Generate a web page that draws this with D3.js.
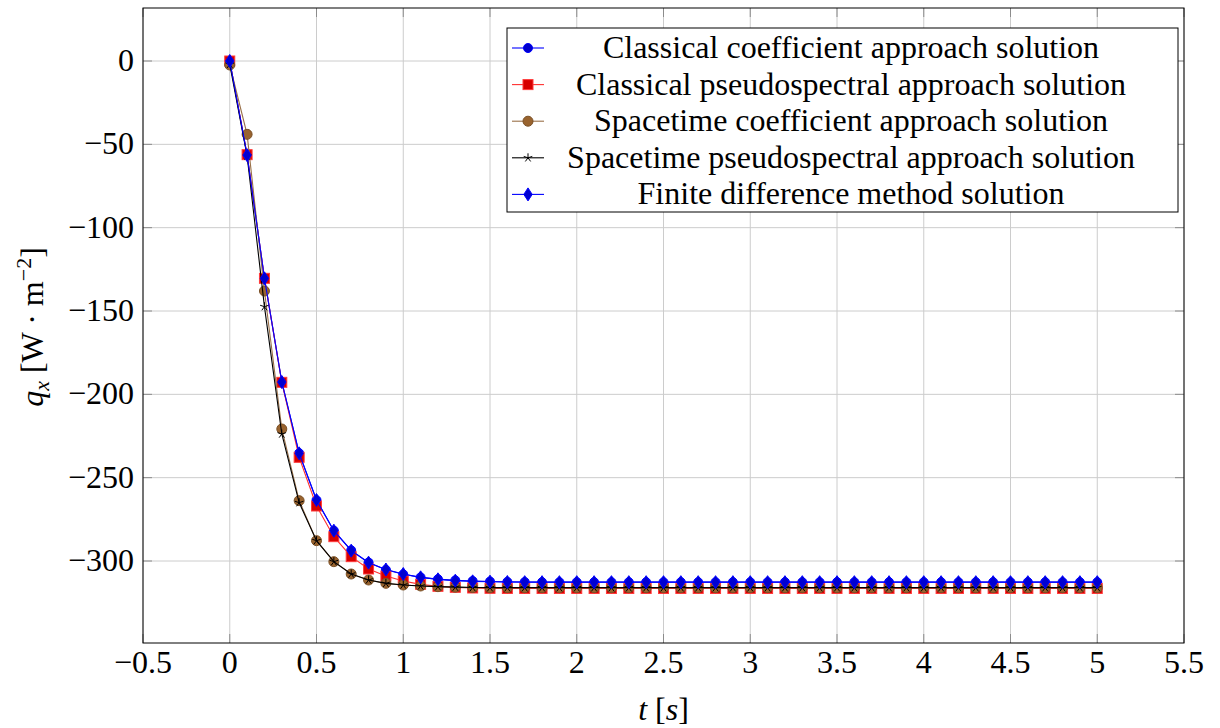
<!DOCTYPE html>
<html>
<head>
<meta charset="utf-8">
<script src="https://cdn.jsdelivr.net/npm/d3@7"></script>
</head>
<body style="margin:0; background:#fff">
<div id="container"></div>
<script>
// time values [s]
const tValues = [0, 0.1, 0.2, 0.3, 0.4, 0.5, 0.6, 0.7, 0.8, 0.9, 1, 1.1, 1.2, 1.3, 1.4, 1.5, 1.6, 1.7, 1.8, 1.9,
    2, 2.1, 2.2, 2.3, 2.4, 2.5, 2.6, 2.7, 2.8, 2.9, 3, 3.1, 3.2, 3.3, 3.4, 3.5, 3.6, 3.7, 3.8, 3.9,
    4, 4.1, 4.2, 4.3, 4.4, 4.5, 4.6, 4.7, 4.8, 4.9, 5];

const classicalCoef = [0, -56.4, -130.2, -192.5, -235.3, -263.5, -281.8, -293.6, -300.9, -305.3, -308.0, -309.8, -310.9, -311.6, -312.0, -312.3, -312.5, -312.6, -312.7, -312.7,
    -312.7, -312.7, -312.7, -312.7, -312.7, -312.7, -312.7, -312.7, -312.7, -312.7, -312.7, -312.7, -312.7, -312.7, -312.7, -312.7, -312.7, -312.7, -312.7, -312.7,
    -312.7, -312.7, -312.7, -312.7, -312.7, -312.7, -312.7, -312.7, -312.7, -312.7, -312.7];

const classicalPseudo = [0, -56.2, -130.4, -192.8, -237.8, -267.0, -285.4, -297.4, -304.8, -309.0, -312.0, -314.0, -315.2, -315.8, -316.2, -316.4, -316.5, -316.5, -316.5, -316.5,
    -316.5, -316.5, -316.5, -316.5, -316.5, -316.5, -316.5, -316.5, -316.5, -316.5, -316.5, -316.5, -316.5, -316.5, -316.5, -316.5, -316.5, -316.5, -316.5, -316.5,
    -316.5, -316.5, -316.5, -316.5, -316.5, -316.5, -316.5, -316.5, -316.5, -316.5, -316.5];

const spacetimeCoef = [-2.4, -44.0, -138.0, -220.8, -263.8, -287.8, -300.4, -307.8, -311.4, -313.4, -314.4, -315.0, -315.4, -315.7, -315.9, -316.0, -316.0, -316.0, -316.0, -316.0,
    -316.0, -316.0, -316.0, -316.0, -316.0, -316.0, -316.0, -316.0, -316.0, -316.0, -316.0, -316.0, -316.0, -316.0, -316.0, -316.0, -316.0, -316.0, -316.0, -316.0,
    -316.0, -316.0, -316.0, -316.0, -316.0, -316.0, -316.0, -316.0, -316.0, -316.0, -316.0];

const spacetimePseudo = [-2.0, -57.0, -147.4, -223.8, -265.0, -287.8, -300.4, -307.8, -311.4, -313.4, -314.4, -315.0, -315.4, -315.7, -315.9, -316.0, -316.0, -316.0, -316.0, -316.0,
    -316.0, -316.0, -316.0, -316.0, -316.0, -316.0, -316.0, -316.0, -316.0, -316.0, -316.0, -316.0, -316.0, -316.0, -316.0, -316.0, -316.0, -316.0, -316.0, -316.0,
    -316.0, -316.0, -316.0, -316.0, -316.0, -316.0, -316.0, -316.0, -316.0, -316.0, -316.0];

const finiteDiff = [0, -56.5, -130.4, -192.6, -235.4, -263.4, -281.8, -293.8, -301.0, -305.1, -307.8, -309.8, -311.0, -311.8, -312.2, -312.4, -312.6, -312.7, -312.7, -312.7,
    -312.7, -312.7, -312.7, -312.7, -312.7, -312.7, -312.7, -312.7, -312.7, -312.7, -312.7, -312.7, -312.7, -312.7, -312.7, -312.7, -312.7, -312.7, -312.7, -312.7,
    -312.7, -312.7, -312.7, -312.7, -312.7, -312.7, -312.7, -312.7, -312.7, -312.7, -312.7];

const seriesNames = [
    "Classical coefficient approach solution",
    "Classical pseudospectral approach solution",
    "Spacetime coefficient approach solution",
    "Spacetime pseudospectral approach solution",
    "Finite difference method solution"
];

const xTicks = [-0.5, 0, 0.5, 1, 1.5, 2, 2.5, 3, 3.5, 4, 4.5, 5, 5.5];
const yTicks = [0, -50, -100, -150, -200, -250, -300];

const width = 1220, height = 728;
const plot = {left: 143, right: 1184, top: 8, bottom: 643};
const font = "Liberation Serif";
const fontSize = 32;

const svg = d3.select('#container')
    .append("svg")
    .attr("width", width)
    .attr("height", height);

const x = d3.scaleLinear().domain([-0.5, 5.5]).range([plot.left, plot.right]);
const y = d3.scaleLinear().domain([-349.2, 31.8]).range([plot.bottom, plot.top]);

// grid
svg.append("g").selectAll("line")
    .data(xTicks)
    .enter().append("line")
    .attr("x1", d => x(d)).attr("x2", d => x(d))
    .attr("y1", plot.top).attr("y2", plot.bottom)
    .attr("stroke", "#cccccc").attr("stroke-width", 1);
svg.append("g").selectAll("line")
    .data(yTicks)
    .enter().append("line")
    .attr("x1", plot.left).attr("x2", plot.right)
    .attr("y1", d => y(d)).attr("y2", d => y(d))
    .attr("stroke", "#cccccc").attr("stroke-width", 1);

// tick marks (inside, mirrored)
const tickLen = 9;
const tickG = svg.append("g").attr("stroke", "#8c8c8c").attr("stroke-width", 1);
xTicks.forEach(d => {
    tickG.append("line").attr("x1", x(d)).attr("x2", x(d)).attr("y1", plot.bottom).attr("y2", plot.bottom - tickLen);
    tickG.append("line").attr("x1", x(d)).attr("x2", x(d)).attr("y1", plot.top).attr("y2", plot.top + tickLen);
});
yTicks.forEach(d => {
    tickG.append("line").attr("x1", plot.left).attr("x2", plot.left + tickLen).attr("y1", y(d)).attr("y2", y(d));
    tickG.append("line").attr("x1", plot.right).attr("x2", plot.right - tickLen).attr("y1", y(d)).attr("y2", y(d));
});

// tick labels
const fmt = d => (d < 0 ? "\u2212" : "") + Math.abs(d);
svg.append("g").selectAll("text")
    .data(xTicks)
    .enter().append("text")
    .attr("x", d => x(d))
    .attr("y", plot.bottom + 30)
    .attr("text-anchor", "middle")
    .attr("font-family", font).attr("font-size", fontSize)
    .text(fmt);
svg.append("g").selectAll("text")
    .data(yTicks)
    .enter().append("text")
    .attr("x", plot.left - 9)
    .attr("y", d => y(d) + 10)
    .attr("text-anchor", "end")
    .attr("font-family", font).attr("font-size", fontSize)
    .text(fmt);

// axis titles
const xt = svg.append("text")
    .attr("x", (plot.left + plot.right) / 2)
    .attr("y", 720)
    .attr("text-anchor", "middle")
    .attr("font-family", font).attr("font-size", fontSize);
xt.append("tspan").attr("font-style", "italic").text("t");
xt.append("tspan").text(" [");
xt.append("tspan").attr("font-style", "italic").text("s");
xt.append("tspan").text("]");

const yt = svg.append("text")
    .attr("transform", "translate(43," + 327 + ") rotate(-90)")
    .attr("text-anchor", "middle")
    .attr("font-family", font).attr("font-size", fontSize);
yt.append("tspan").attr("font-style", "italic").text("q");
yt.append("tspan").attr("font-style", "italic").attr("font-size", 22).attr("dy", 6).text("x");
yt.append("tspan").attr("dy", -6).text(" [W \u00B7 m");
yt.append("tspan").attr("font-size", 22).attr("dy", -12).text("\u22122");
yt.append("tspan").attr("dy", 12).text("]");

// series definitions
const series = [
    {name: seriesNames[0], values: classicalCoef, line: "#0000ff", mark: "circle", fill: "#0000cc", stroke: "#0000ff"},
    {name: seriesNames[1], values: classicalPseudo, line: "#ff3030", mark: "square", fill: "#d60000", stroke: "#ff3b3b"},
    {name: seriesNames[2], values: spacetimeCoef, line: "#9a7048", mark: "bigcircle", fill: "#99632e", stroke: "#7a5026"},
    {name: seriesNames[3], values: spacetimePseudo, line: "#000000", mark: "star", fill: "none", stroke: "#000000"},
    {name: seriesNames[4], values: finiteDiff, line: "#0000ff", mark: "diamond", fill: "#0000d0", stroke: "#0000ff"}
];

function drawMark(g, s, cx, cy) {
    if (s.mark === "circle") {
        g.append("circle").attr("cx", cx).attr("cy", cy).attr("r", 4.5)
            .attr("fill", s.fill).attr("stroke", s.stroke).attr("stroke-width", 1);
    } else if (s.mark === "bigcircle") {
        g.append("circle").attr("cx", cx).attr("cy", cy).attr("r", 5)
            .attr("fill", s.fill).attr("stroke", s.stroke).attr("stroke-width", 1);
    } else if (s.mark === "square") {
        g.append("rect").attr("x", cx - 5).attr("y", cy - 5).attr("width", 10).attr("height", 10)
            .attr("fill", s.fill).attr("stroke", s.stroke).attr("stroke-width", 1);
    } else if (s.mark === "diamond") {
        g.append("path")
            .attr("d", "M" + cx + "," + (cy - 6.5) + "L" + (cx + 4.2) + "," + cy + "L" + cx + "," + (cy + 6.5) + "L" + (cx - 4.2) + "," + cy + "Z")
            .attr("fill", s.fill).attr("stroke", s.stroke).attr("stroke-width", 1);
    } else if (s.mark === "star") {
        const r = 4.5;
        let d = "";
        for (let k = 0; k < 5; k++) {
            const a = -Math.PI / 2 + k * 2 * Math.PI / 5;
            d += "M" + cx + "," + cy + "L" + (cx + r * Math.cos(a)) + "," + (cy + r * Math.sin(a));
        }
        g.append("path").attr("d", d).attr("fill", "none").attr("stroke", s.stroke).attr("stroke-width", 1);
    }
}

const line = d3.line()
    .x(d => x(d[0]))
    .y(d => y(d[1]));

series.forEach(s => {
    const pts = tValues.map((t, i) => [t, s.values[i]]);
    const g = svg.append("g");
    g.append("path")
        .datum(pts)
        .attr("d", line)
        .attr("fill", "none")
        .attr("stroke", s.line)
        .attr("stroke-width", 1.1);
    pts.forEach(p => drawMark(g, s, x(p[0]), y(p[1])));
});

// axis box
svg.append("rect")
    .attr("x", plot.left).attr("y", plot.top)
    .attr("width", plot.right - plot.left).attr("height", plot.bottom - plot.top)
    .attr("fill", "none").attr("stroke", "#000").attr("stroke-width", 1);

// legend
const legend = svg.append("g");
const lg = {x: 507, y: 28, w: 671, h: 184, row: 36.6};
legend.append("rect")
    .attr("x", lg.x).attr("y", lg.y).attr("width", lg.w).attr("height", lg.h)
    .attr("fill", "#fff").attr("stroke", "#000").attr("stroke-width", 1);
series.forEach((s, i) => {
    const cy = lg.y + 20 + i * lg.row;
    legend.append("line")
        .attr("x1", lg.x + 5).attr("x2", lg.x + 37)
        .attr("y1", cy).attr("y2", cy)
        .attr("stroke", s.line).attr("stroke-width", 1.1);
    drawMark(legend, s, lg.x + 21, cy);
    legend.append("text")
        .attr("x", 851)
        .attr("y", cy + 10)
        .attr("text-anchor", "middle")
        .attr("font-family", font).attr("font-size", fontSize)
        .text(s.name);
});
</script>
</body>
</html>
